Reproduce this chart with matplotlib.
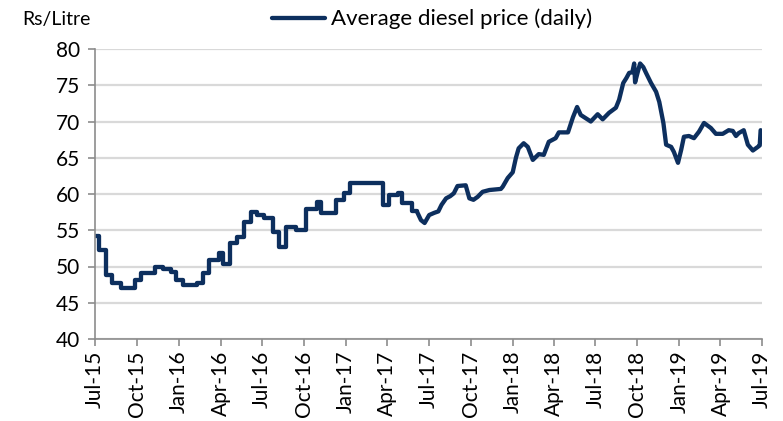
import matplotlib
matplotlib.use("Agg")
import matplotlib.pyplot as plt
import matplotlib.dates as mdates
import pandas as pd

# Fortnightly revisions (step changes) until mid-2017
step_dates = [
    "2015-07-01", "2015-07-09", "2015-07-24", "2015-08-08", "2015-08-26",
    "2015-09-26", "2015-10-09", "2015-11-10", "2015-11-26", "2015-12-14",
    "2015-12-26", "2016-01-10", "2016-02-09", "2016-02-23", "2016-03-07",
    "2016-03-28", "2016-04-07", "2016-04-21", "2016-05-08", "2016-05-22",
    "2016-06-06", "2016-06-20", "2016-07-06", "2016-07-25", "2016-08-07",
    "2016-08-22", "2016-09-13", "2016-10-05", "2016-10-30", "2016-11-07",
    "2016-12-09", "2016-12-27", "2017-01-09", "2017-03-23", "2017-04-05",
    "2017-04-24", "2017-05-03", "2017-05-26", "2017-06-05",
]
step_values = [
    54.2, 52.3, 48.8, 47.7, 47.0,
    48.1, 49.1, 49.9, 49.6, 49.2,
    48.1, 47.4, 47.7, 49.1, 50.9,
    51.8, 50.3, 53.2, 54.1, 56.1,
    57.5, 57.1, 56.7, 54.8, 52.7,
    55.4, 55.0, 57.9, 58.9, 57.4,
    59.2, 60.2, 61.5, 58.5, 59.8,
    60.2, 58.7, 57.6, 57.6,
]

# Daily pricing afterwards
daily_dates = [
    "2017-06-05", "2017-06-14", "2017-06-22", "2017-07-02", "2017-07-13",
    "2017-07-22", "2017-07-29", "2017-08-08", "2017-08-17", "2017-08-25",
    "2017-09-02", "2017-09-20", "2017-09-28", "2017-10-07", "2017-10-16",
    "2017-10-27", "2017-11-11", "2017-12-06", "2017-12-10", "2017-12-21",
    "2018-01-01", "2018-01-08", "2018-01-14", "2018-01-25", "2018-02-03",
    "2018-02-14", "2018-02-27", "2018-03-10", "2018-03-21", "2018-04-05",
    "2018-04-12", "2018-05-02", "2018-05-13", "2018-05-22", "2018-05-30",
    "2018-06-21", "2018-07-06", "2018-07-17", "2018-07-31", "2018-08-15",
    "2018-08-22", "2018-08-31", "2018-09-07", "2018-09-13", "2018-09-20",
    "2018-09-24", "2018-09-26", "2018-10-03", "2018-10-07", "2018-10-14",
    "2018-10-20", "2018-10-31", "2018-11-11", "2018-11-18", "2018-11-27",
    "2018-12-03", "2018-12-14", "2018-12-20", "2018-12-29", "2019-01-05",
    "2019-01-11", "2019-01-22", "2019-02-02", "2019-02-13", "2019-02-24",
    "2019-03-11", "2019-03-22", "2019-04-06", "2019-04-19", "2019-04-28",
    "2019-05-05", "2019-05-11", "2019-05-22", "2019-05-31", "2019-06-11",
    "2019-06-22", "2019-06-26", "2019-06-28",
]
daily_values = [
    57.6, 56.4, 56.0, 57.1, 57.4,
    57.6, 58.5, 59.4, 59.7, 60.1,
    61.1, 61.2, 59.4, 59.2, 59.6,
    60.3, 60.55, 60.7, 61.0, 62.2,
    63.0, 65.0, 66.3, 67.0, 66.5,
    64.7, 65.5, 65.4, 67.2, 67.7,
    68.5, 68.5, 70.6, 72.0, 70.9,
    70.0, 71.0, 70.3, 71.2, 71.9,
    73.0, 75.3, 76.0, 76.7, 76.8,
    78.0, 75.4, 77.1, 78.0, 77.5,
    76.7, 75.3, 74.1, 72.7, 69.8,
    66.8, 66.5, 65.8, 64.3, 66.1,
    67.9, 68.0, 67.7, 68.6, 69.8,
    69.1, 68.3, 68.3, 68.8, 68.7,
    68.0, 68.4, 68.8, 66.8, 66.0,
    66.5, 66.7, 68.8,
]

tick_dates = pd.date_range("2015-07-01", "2019-07-01", freq="3MS")
y_ticks = list(range(40, 81, 5))

LINE = "#0d2f5e"
GRID = "#d9d9d9"
AXIS = "#8c8c8c"

plt.rcParams["font.family"] = ["Lato", "DejaVu Sans"]

fig = plt.figure(figsize=(7.83, 4.21), dpi=100)
ax = fig.add_axes([95 / 783, 1 - 339 / 421, 667 / 783, 290 / 421])

ax.plot(pd.to_datetime(step_dates), step_values, drawstyle="steps-post",
        color=LINE, lw=3.1, solid_joinstyle="round", solid_capstyle="round",
        label="Average diesel price (daily)")
ax.plot(pd.to_datetime(daily_dates), daily_values,
        color=LINE, lw=3.1, solid_joinstyle="round", solid_capstyle="round")

ax.set_xlim(pd.Timestamp("2015-07-01"), pd.Timestamp("2019-07-01"))
ax.set_ylim(40, 80)
ax.set_yticks(y_ticks)
ax.set_xticks(tick_dates)
ax.xaxis.set_major_formatter(mdates.DateFormatter("%b-%y"))

ax.grid(axis="y", color=GRID, lw=1.6)
ax.set_axisbelow(True)
for side in ("top", "right"):
    ax.spines[side].set_visible(False)
for side in ("left", "bottom"):
    ax.spines[side].set_color(AXIS)
    ax.spines[side].set_linewidth(1.2)

ax.tick_params(axis="both", colors=AXIS, length=5, width=1.2, direction="out",
               labelcolor="black", labelsize=15)
ax.tick_params(axis="y", pad=6)
plt.setp(ax.get_xticklabels(), rotation=90)

fig.text(22 / 783, 1 - 19 / 421, "Rs/Litre", fontsize=14, va="center", ha="left")

fig.legend(loc="center", bbox_to_anchor=(432 / 783, 1 - 19 / 421), frameon=False,
           fontsize=16, handlelength=2.4, handletextpad=0.25, borderaxespad=0)

fig.savefig("out.png", dpi=100)
